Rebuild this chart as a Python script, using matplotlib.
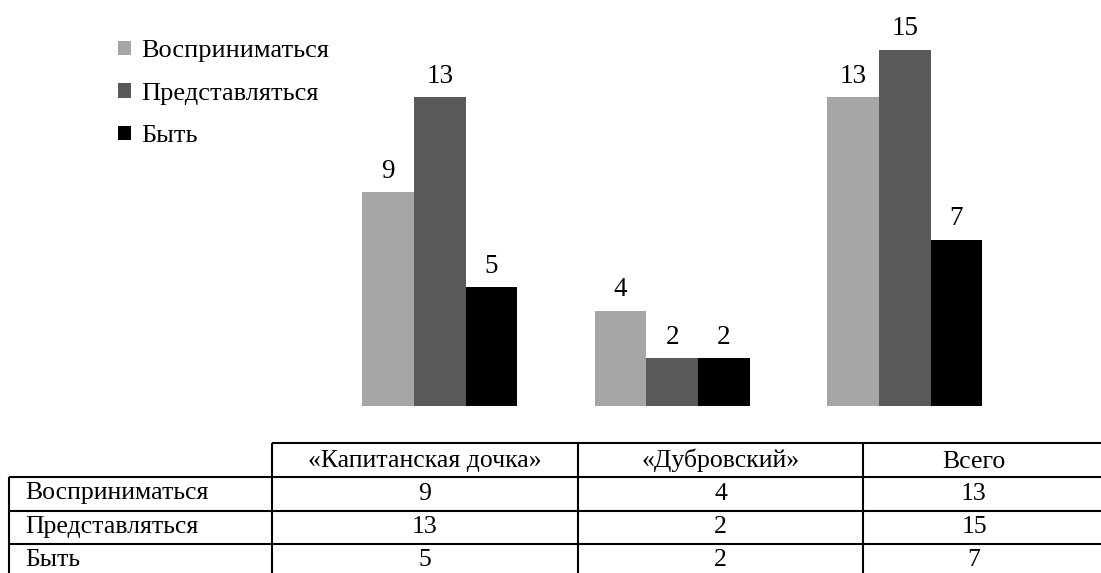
import matplotlib
matplotlib.use("Agg")
import matplotlib.pyplot as plt
from matplotlib.patches import Patch
from matplotlib import font_manager
import numpy as np

_avail = set(f.name for f in font_manager.fontManager.ttflist)
_cands = ['Liberation Serif', 'Tinos', 'Times New Roman', 'PT Serif', 'Noto Serif', 'DejaVu Serif']
_font = next((c for c in _cands if c in _avail), 'serif')
plt.rcParams['font.family'] = [_font, 'DejaVu Serif', 'DejaVu Sans']

categories = ["«Капитанская дочка»", "«Дубровский»", "Всего"]
series_names = ["Восприниматься", "Представляться", "Быть"]
vosprinimatsya = [9, 4, 13]
predstavlyatsya = [13, 2, 15]
byt = [5, 2, 7]
series_values = [vosprinimatsya, predstavlyatsya, byt]
colors = ["#A6A6A6", "#595959", "#000000"]

W, H = 1101, 573
fig = plt.figure(figsize=(W / 100, H / 100), dpi=100)

# bar axes (pixel placement)
x0, x1 = 323.5, 1021.0
ybase, ytop = 405.7, 26.3
ax = fig.add_axes([x0 / W, (H - ybase) / H, (x1 - x0) / W, (ybase - ytop) / H])
ax.set_xlim(-0.5, 2.5)
ax.set_ylim(0, 16)
ax.axis('off')

x = np.arange(len(categories))
bw = 0.2224
handles = []
for i, (name, vals, c) in enumerate(zip(series_names, series_values, colors)):
    bars = ax.bar(x + (i - 1) * bw, vals, width=bw, color=c, label=name,
                  linewidth=0)
    for rect, v in zip(bars, vals):
        ax.annotate(str(v), (rect.get_x() + rect.get_width() / 2, rect.get_height()),
                    xytext=(0, 10.5), textcoords='offset points',
                    ha='center', va='baseline', fontsize=19.5, color='black')
    handles.append(Patch(facecolor=c, edgecolor='none', label=name))

leg = fig.legend(handles=handles, loc='upper left',
                 bbox_to_anchor=(118.3 / W, 1 - 40.5 / H),
                 frameon=False, fontsize=19,
                 handlelength=0.466, handleheight=0.466, handletextpad=0.42,
                 labelspacing=0.77, borderpad=0, borderaxespad=0)

# table axes in pixel coordinates
tax = fig.add_axes([0, 0, 1, 1])
tax.set_xlim(0, W)
tax.set_ylim(H, 0)
tax.axis('off')

lw = 1.5
col_x = [9, 272, 578, 863, 1085]
row_y = [442.5, 477, 510.5, 544, 578]
right = 1110
tax.plot([col_x[1], right], [row_y[0], row_y[0]], color='black', lw=lw, solid_capstyle='butt')
for yy in row_y[1:]:
    tax.plot([col_x[0], right], [yy, yy], color='black', lw=lw, solid_capstyle='butt')
tax.plot([col_x[0], col_x[0]], [row_y[1], row_y[-1]], color='black', lw=lw, solid_capstyle='butt')
for xx in col_x[1:4]:
    tax.plot([xx, xx], [row_y[0], row_y[-1]], color='black', lw=lw, solid_capstyle='butt')

tfs = 18.5
for j, cat in enumerate(categories):
    cx = (col_x[j + 1] + col_x[j + 2]) / 2
    tax.text(cx, row_y[0] + 25, cat, ha='center', va='baseline', fontsize=tfs)
for i, (name, vals) in enumerate(zip(series_names, series_values)):
    yb = row_y[i + 1] + 22.5
    tax.text(25, yb, name, ha='left', va='baseline', fontsize=tfs)
    for j, v in enumerate(vals):
        cx = (col_x[j + 1] + col_x[j + 2]) / 2
        tax.text(cx, yb, str(v), ha='center', va='baseline', fontsize=tfs)

fig.savefig("out.png", dpi=100)
